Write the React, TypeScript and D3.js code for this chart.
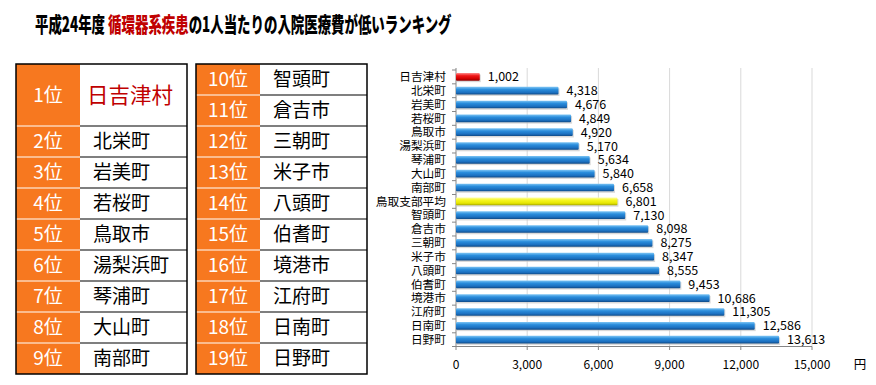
import { useEffect, useRef } from "react";
import * as d3 from "d3";

// ランキング表
const RANK_NAMES = [
  "日吉津村", "北栄町", "岩美町", "若桜町", "鳥取市", "湯梨浜町", "琴浦町", "大山町", "南部町",
  "智頭町", "倉吉市", "三朝町", "米子市", "八頭町", "伯耆町", "境港市", "江府町", "日南町", "日野町",
];

// グラフ（鳥取支部平均を含む）
const CATEGORIES = [
  "日吉津村", "北栄町", "岩美町", "若桜町", "鳥取市", "湯梨浜町", "琴浦町", "大山町", "南部町",
  "鳥取支部平均", "智頭町", "倉吉市", "三朝町", "米子市", "八頭町", "伯耆町", "境港市", "江府町",
  "日南町", "日野町",
];
const VALUES = [
  1002, 4318, 4676, 4849, 4920, 5170, 5634, 5840, 6658, 6801, 7130, 8098, 8275, 8347, 8555, 9453,
  10686, 11305, 12586, 13613,
];
const X_TICKS = [0, 3000, 6000, 9000, 12000, 15000];

const W = 876;
const H = 385;
const ORANGE = "#f7781f";
const FONT = "'Noto Sans CJK JP', 'Noto Sans', sans-serif";

const ROW_H = 31;
const TABLE_TOP = 64;

function RankTable({ x, w, rankW, names, start, bigFirst }: {
  x: number; w: number; rankW: number; names: string[]; start: number; bigFirst: boolean;
}) {
  // 行の高さ（1位のみ2行分）
  const rows = names.map((n, i) => ({ name: n, rank: start + i, h: bigFirst && i === 0 ? ROW_H * 2 : ROW_H }));
  let y = TABLE_TOP;
  const total = rows.reduce((s, r) => s + r.h, 0);
  return (
    <g>
      <rect x={x} y={TABLE_TOP} width={rankW} height={total} fill={ORANGE} />
      {rows.map((r, i) => {
        const y0 = y;
        y += r.h;
        const isTop = bigFirst && i === 0;
        return (
          <g key={r.rank}>
            {i > 0 && (
              <>
                <line x1={x} x2={x + rankW} y1={y0} y2={y0} stroke="white" strokeWidth={1.2} />
                <line x1={x + rankW} x2={x + w} y1={y0} y2={y0} stroke="#000" strokeWidth={1.2} />
              </>
            )}
            <text x={x + rankW / 2} y={y0 + r.h / 2} dy="0.36em" textAnchor="middle" fill="white"
              fontSize={19} fontFamily={FONT}>{r.rank}位</text>
            <text x={x + rankW + (isTop ? 7 : 13)} y={y0 + r.h / 2} dy="0.36em"
              fill={isTop ? "#c00000" : "#000"} fontSize={isTop ? 21.5 : 19} fontFamily={FONT}>{r.name}</text>
          </g>
        );
      })}
      <rect x={x} y={TABLE_TOP} width={w} height={total} fill="none" stroke="#000" strokeWidth={1.5} />
    </g>
  );
}

export default function App() {
  const titleRef = useRef<SVGTextElement>(null);
  const x = d3.scaleLinear().domain([0, 15000]).range([456, 812]);
  const y = d3.scaleBand<string>().domain(CATEGORIES).range([70, 346.5]).paddingInner(0.45).paddingOuter(0.22);
  const step = y.step();
  const barColor = (c: string) => (c === "日吉津村" ? "url(#gRed)" : c === "鳥取支部平均" ? "url(#gYel)" : "url(#gBlue)");
  const fmt = d3.format(",");

  // タイトルを横方向に圧縮して幅を合わせる
  useEffect(() => {
    const el = titleRef.current;
    if (!el) return;
    const w = el.getComputedTextLength();
    if (w > 0) d3.select(el).attr("transform", `translate(35,31.5) scale(${417 / w},1)`);
  }, []);

  return (
    <svg width={W} height={H} style={{ position: "absolute", left: 0, top: 0, background: "white" }}>
      <defs>
        <linearGradient id="gBlue" x1="0" y1="0" x2="0" y2="1">
          <stop offset="0" stopColor="#7cc4f4" />
          <stop offset="0.35" stopColor="#2a8ddc" />
          <stop offset="0.75" stopColor="#1b6fbf" />
          <stop offset="1" stopColor="#0f4a86" />
        </linearGradient>
        <linearGradient id="gRed" x1="0" y1="0" x2="0" y2="1">
          <stop offset="0" stopColor="#ff8a8a" />
          <stop offset="0.35" stopColor="#f01818" />
          <stop offset="0.75" stopColor="#d00000" />
          <stop offset="1" stopColor="#8c0000" />
        </linearGradient>
        <linearGradient id="gYel" x1="0" y1="0" x2="0" y2="1">
          <stop offset="0" stopColor="#ffffa0" />
          <stop offset="0.35" stopColor="#f6f620" />
          <stop offset="0.75" stopColor="#e6e600" />
          <stop offset="1" stopColor="#a8a800" />
        </linearGradient>
      </defs>

      {/* タイトル */}
      <text ref={titleRef} x={0} y={0} transform="translate(35,31.5)" fontSize={21} fontWeight="900" fontFamily={FONT}>
        <tspan fill="#000">平成24年度 </tspan>
        <tspan fill="#c00000">循環器系疾患</tspan>
        <tspan fill="#000">の1人当たりの入院医療費が低いランキング</tspan>
      </text>

      {/* ランキング表 */}
      <RankTable x={16} w={171} rankW={64} names={RANK_NAMES.slice(0, 9)} start={1} bigFirst={true} />
      <RankTable x={196} w={171} rankW={64} names={RANK_NAMES.slice(9)} start={10} bigFirst={false} />

      {/* グリッド線 */}
      {X_TICKS.slice(1).map((t) => (
        <line key={t} x1={x(t)} x2={x(t)} y1={68} y2={346.5} stroke="#d9d9d9" strokeWidth={1} />
      ))}

      {/* Y軸 */}
      <line x1={456} x2={456} y1={68} y2={346.5} stroke="#868686" />
      {CATEGORIES.map((c, i) => (
        <line key={c} x1={452} x2={456} y1={70 + i * step} y2={70 + i * step} stroke="#868686" />
      ))}
      <line x1={452} x2={812} y1={346.5} y2={346.5} stroke="#868686" />
      {X_TICKS.map((t) => (
        <line key={t} x1={x(t)} x2={x(t)} y1={346.5} y2={350} stroke="#868686" />
      ))}

      {/* バー */}
      {CATEGORIES.map((c, i) => {
        const by = y(c)!;
        const bh = y.bandwidth();
        return (
          <g key={c}>
            <rect x={x(0) + 1} y={by + 1.5} width={x(VALUES[i]) - x(0)} height={bh} fill="#bfbfbf" opacity={0.6} />
            <rect x={x(0)} y={by} width={x(VALUES[i]) - x(0)} height={bh} fill={barColor(c)} rx={1} />
            <text x={x(VALUES[i]) + 8} y={by + bh / 2} dy="0.36em" fontSize={12.5} fontFamily={FONT}
              fill="#000">{fmt(VALUES[i])}</text>
            <text x={446} y={by + bh / 2} dy="0.36em" textAnchor="end" fontSize={11.7} fontFamily={FONT}
              fill="#000">{c}</text>
          </g>
        );
      })}

      {/* X軸ラベル */}
      {X_TICKS.map((t) => (
        <text key={t} x={x(t)} y={369} textAnchor="middle" fontSize={12} fontFamily={FONT} fill="#000">
          {fmt(t)}
        </text>
      ))}
      <text x={860} y={369} textAnchor="middle" fontSize={12.5} fontFamily={FONT} fill="#000">円</text>
    </svg>
  );
}
